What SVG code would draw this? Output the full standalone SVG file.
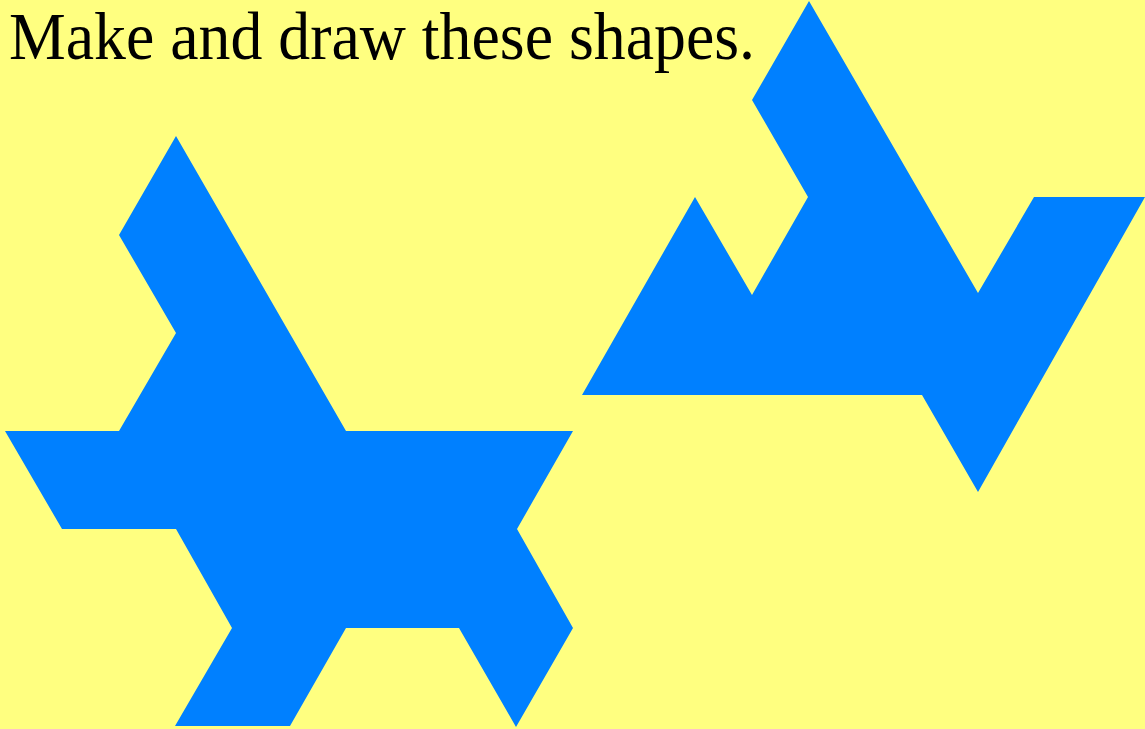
<svg xmlns="http://www.w3.org/2000/svg" width="1145" height="729" viewBox="0 0 1145 729">
<style>
.shape{fill:#0080FF;stroke:none}
.title{font-family:"Liberation Serif","Times New Roman",serif;font-size:68px;fill:#000}
</style>
<rect x="0" y="0" width="1145" height="729" fill="#FFFF80"/>
<text class="title" x="9" y="59" textLength="746" lengthAdjust="spacingAndGlyphs">Make and draw these shapes.</text>
<g id="shape-left">
<polygon class="shape" points="176,136 346,431 573,431 517,529 573,628 516,727 459,628 346,628 290,726 175,726 232,628 176,529 62,529 5,431 119,431 176,333 119,235"/>
</g>
<g id="shape-right">
<polygon class="shape" points="809,1 978,293 1034,197 1145,197 978,492 922,395 582,395 695,197 752,295 808,197 752,100"/>
</g>
</svg>
